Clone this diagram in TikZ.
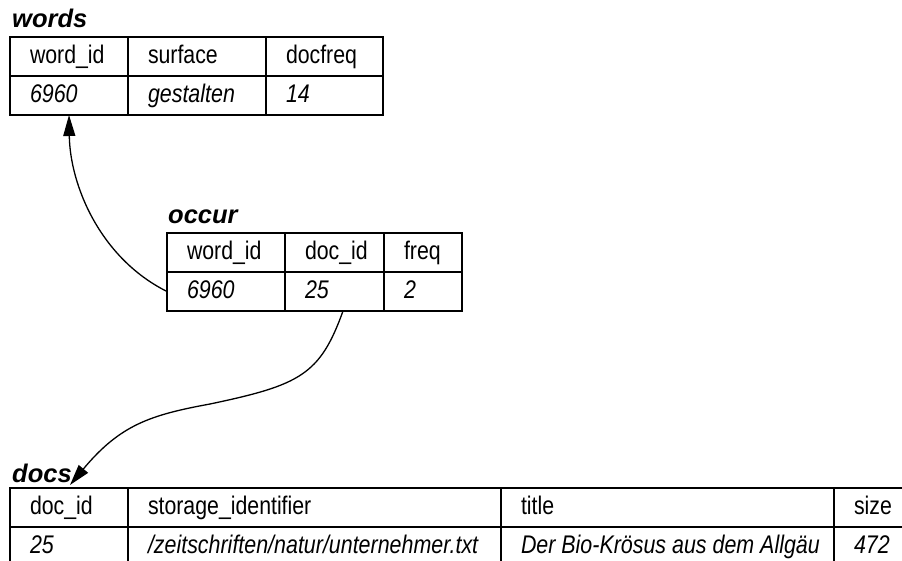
\documentclass[tikz,border=0pt]{standalone}
\usepackage{fontspec}
\setmainfont{Liberation Sans}[FakeStretch=0.835,ItalicFeatures={FakeStretch=0.84}]
\newfontfamily\titlefont{Liberation Sans}
\usetikzlibrary{arrows.meta,calc}
\newcommand{\cellbox}[2]{\makebox[#1][l]{\hspace{20pt}#2}}
\begin{document}
\begin{tikzpicture}[x=1pt,y=-1pt,
  cell/.style={draw=black, line width=1.1pt, inner sep=0pt, outer sep=0pt, minimum height=39pt,
    text height=17pt, text depth=3pt, anchor=north west, font=\fontsize{25.5pt}{30pt}\selectfont},
  val/.style={cell, font=\fontsize{25.5pt}{30pt}\selectfont\itshape},
  tabtitle/.style={inner sep=0pt, anchor=base west, font=\titlefont\fontsize{25.5pt}{30pt}\selectfont\bfseries\itshape},
  link/.style={line width=1.3pt, -{Triangle[length=21pt,width=12pt]}}]
\useasboundingbox (0,0) rectangle (902,560);
\clip (0,0) rectangle (902,560);
% words
\node[tabtitle] (wordsT) at (12,27) {words};
\node[cell] (wh1) at (10,37)  {\cellbox{118pt}{word\_id}};
\node[cell] (wh2) at (128,37) {\cellbox{138pt}{surface}};
\node[cell] (wh3) at (266,37) {\cellbox{117pt}{docfreq}};
\node[val]  (wv1) at (10,76)  {\cellbox{118pt}{6960}};
\node[val]  (wv2) at (128,76) {\cellbox{138pt}{gestalten}};
\node[val]  (wv3) at (266,76) {\cellbox{117pt}{14}};
% occur
\node[tabtitle] (occurT) at (168,223) {occur};
\node[cell] (oh1) at (167,233) {\cellbox{118pt}{word\_id}};
\node[cell] (oh2) at (285,233) {\cellbox{99pt}{doc\_id}};
\node[cell] (oh3) at (384,233) {\cellbox{78pt}{freq}};
\node[val]  (ov1) at (167,272) {\cellbox{118pt}{6960}};
\node[val]  (ov2) at (285,272) {\cellbox{99pt}{25}};
\node[val]  (ov3) at (384,272) {\cellbox{78pt}{2}};
% docs
\node[tabtitle] (docsT) at (12,482) {docs};
\node[cell] (dh1) at (10,488)  {\cellbox{118pt}{doc\_id}};
\node[cell] (dh2) at (128,488) {\cellbox{373pt}{storage\_identifier}};
\node[cell] (dh3) at (501,488) {\cellbox{333pt}{title}};
\node[cell] (dh4) at (834,488) {\cellbox{81pt}{size}};
\node[val]  (dv1) at (10,527)  {\cellbox{118pt}{25}};
\node[val]  (dv2) at (128,527) {\cellbox{373pt}{/zeitschriften/natur/unternehmer.txt}};
\node[val]  (dv3) at (501,527) {\cellbox{333pt}{Der Bio-Krösus aus dem Allgäu}};
\node[val]  (dv4) at (834,527) {\cellbox{81pt}{472}};
% connectors
\coordinate (bend) at (210,404);
\draw[link] (ov1.west) .. controls (100,258) and (70,185) .. (wv1.south);
\draw[link] ($(ov2.south)+(8.5,0)$) .. controls (320,375) and (300,385) .. (bend)
  .. controls (150,415) and (120,425) .. ($(dh1.north)+(1,-3)$);
\end{tikzpicture}
\end{document}
